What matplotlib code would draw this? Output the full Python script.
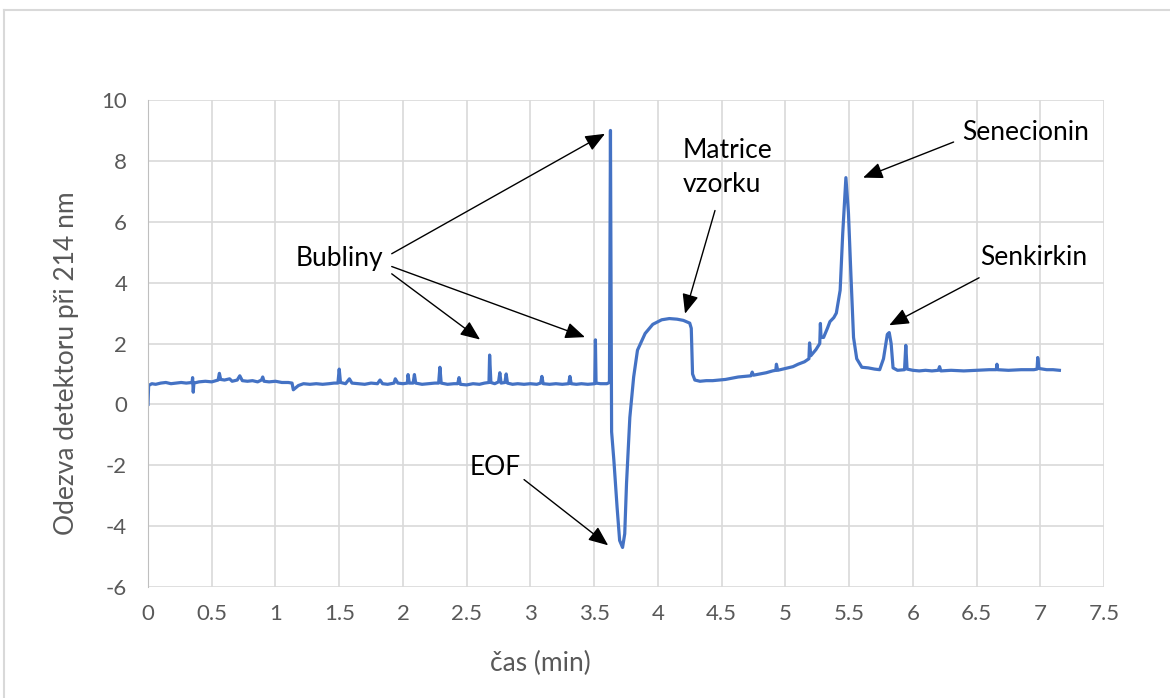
import matplotlib.pyplot as plt
from matplotlib.lines import Line2D

# elektroferogram
cas = [0.000, 0.005, 0.03, 0.06, 0.10, 0.14, 0.18, 0.22, 0.26, 0.30,
       0.345, 0.35, 0.355, 0.36, 0.40, 0.45, 0.50, 0.55, 0.56, 0.57,
       0.60, 0.64, 0.66, 0.70, 0.72, 0.74, 0.78, 0.82, 0.86, 0.89,
       0.90, 0.91, 0.95, 1.00, 1.05, 1.10, 1.13, 1.14, 1.16, 1.18,
       1.22, 1.27, 1.32, 1.37, 1.42, 1.46, 1.49, 1.50, 1.51, 1.55,
       1.58, 1.60, 1.65, 1.70, 1.75, 1.80, 1.82, 1.84, 1.88, 1.93,
       1.94, 1.96, 2.00, 2.035, 2.04, 2.05, 2.08, 2.09, 2.10, 2.15,
       2.20, 2.25, 2.28, 2.29, 2.30, 2.35, 2.40, 2.43, 2.44, 2.45,
       2.50, 2.55, 2.60, 2.64, 2.675, 2.68, 2.69, 2.72, 2.75, 2.76,
       2.77, 2.80, 2.81, 2.82, 2.86, 2.90, 2.95, 3.00, 3.05, 3.08,
       3.09, 3.10, 3.15, 3.20, 3.25, 3.30, 3.31, 3.32, 3.36, 3.40,
       3.45, 3.505, 3.51, 3.515, 3.55, 3.60, 3.62, 3.628, 3.637, 3.655,
       3.68, 3.70, 3.723, 3.74, 3.754, 3.78, 3.81, 3.84, 3.90, 3.96,
       4.03, 4.09, 4.15, 4.20, 4.25, 4.262, 4.272, 4.29, 4.33, 4.38,
       4.43, 4.48, 4.53, 4.58, 4.63, 4.68, 4.73, 4.74, 4.75, 4.80,
       4.85, 4.90, 4.925, 4.93, 4.94, 4.98, 5.02, 5.06, 5.10, 5.15,
       5.185, 5.19, 5.20, 5.24, 5.27, 5.275, 5.28, 5.30, 5.33, 5.35,
       5.38, 5.40, 5.43, 5.45, 5.475, 5.495, 5.515, 5.535, 5.56, 5.60,
       5.65, 5.70, 5.74, 5.77, 5.80, 5.815, 5.83, 5.845, 5.88, 5.935,
       5.945, 5.955, 6.00, 6.05, 6.10, 6.15, 6.20, 6.21, 6.22, 6.30,
       6.40, 6.50, 6.60, 6.655, 6.66, 6.665, 6.75, 6.85, 6.95, 6.975,
       6.98, 6.99, 7.05, 7.10, 7.15]
odezva = [0.00, 0.62, 0.68, 0.66, 0.70, 0.72, 0.68, 0.70, 0.72, 0.70,
          0.72, 0.88, 0.40, 0.70, 0.74, 0.76, 0.74, 0.80, 1.02, 0.82,
          0.80, 0.84, 0.76, 0.80, 0.94, 0.78, 0.76, 0.78, 0.74, 0.80,
          0.90, 0.76, 0.74, 0.76, 0.72, 0.72, 0.70, 0.48, 0.55, 0.62,
          0.68, 0.66, 0.68, 0.66, 0.68, 0.70, 0.70, 1.16, 0.72, 0.68,
          0.84, 0.70, 0.68, 0.66, 0.70, 0.68, 0.80, 0.68, 0.66, 0.70,
          0.84, 0.70, 0.68, 0.70, 0.98, 0.70, 0.70, 0.98, 0.70, 0.66,
          0.68, 0.70, 0.70, 1.22, 0.70, 0.66, 0.68, 0.68, 0.88, 0.66,
          0.64, 0.68, 0.66, 0.70, 0.72, 1.62, 0.72, 0.68, 0.74, 1.04,
          0.70, 0.72, 1.00, 0.70, 0.66, 0.68, 0.66, 0.68, 0.66, 0.70,
          0.92, 0.68, 0.66, 0.68, 0.66, 0.68, 0.92, 0.68, 0.66, 0.68,
          0.66, 0.68, 2.12, 0.70, 0.68, 0.68, 0.72, 9.00, -0.90, -1.85,
          -3.38, -4.47, -4.70, -4.25, -2.60, -0.43, 0.90, 1.78, 2.33, 2.63,
          2.78, 2.82, 2.80, 2.76, 2.67, 2.50, 1.00, 0.80, 0.76, 0.78,
          0.78, 0.80, 0.82, 0.86, 0.90, 0.92, 0.94, 1.06, 0.96, 1.00,
          1.04, 1.10, 1.12, 1.32, 1.12, 1.16, 1.20, 1.24, 1.32, 1.40,
          1.50, 2.02, 1.60, 1.80, 2.00, 2.66, 2.20, 2.20, 2.50, 2.72,
          2.85, 3.00, 3.75, 5.60, 7.45, 6.30, 4.20, 2.20, 1.50, 1.22,
          1.20, 1.16, 1.14, 1.50, 2.30, 2.36, 2.00, 1.20, 1.12, 1.14,
          1.94, 1.16, 1.12, 1.10, 1.12, 1.10, 1.12, 1.24, 1.10, 1.12,
          1.10, 1.12, 1.14, 1.14, 1.32, 1.14, 1.12, 1.14, 1.14, 1.16,
          1.54, 1.18, 1.14, 1.14, 1.12]

x_ticks = [0, 0.5, 1, 1.5, 2, 2.5, 3, 3.5, 4, 4.5, 5, 5.5, 6, 6.5, 7, 7.5]
y_ticks = [-6, -4, -2, 0, 2, 4, 6, 8, 10]

plt.rcParams['font.family'] = ['Lato', 'DejaVu Sans']
plt.rcParams['axes.unicode_minus'] = False

fig = plt.figure(figsize=(11.7, 6.98), dpi=100)
ax = fig.add_axes([0.1265, 0.159, 0.8171, 0.6977])

ax.plot(cas, odezva, color='#4472C4', lw=2.3, solid_joinstyle='round')

ax.set_xlim(0, 7.5)
ax.set_ylim(-6, 10)
ax.set_xticks(x_ticks)
ax.set_xticklabels([f'{t:g}' for t in x_ticks])
ax.set_yticks(y_ticks)
ax.grid(True, color='#d9d9d9', lw=1.2)
ax.set_axisbelow(True)
for s in ['top', 'right', 'bottom']:
    ax.spines[s].set_visible(False)
ax.spines['left'].set_color('#bfbfbf')
ax.tick_params(length=0, labelsize=16, labelcolor='#595959')
ax.tick_params(axis='y', pad=15)
ax.tick_params(axis='x', pad=12)

ax.set_xlabel('čas (min)', fontsize=19, color='#595959', va='center')
ax.xaxis.set_label_coords(0.41, -0.156)
ax.set_ylabel('Odezva detektoru při 214 nm', fontsize=19, color='#595959', va='center')
ax.yaxis.set_label_coords(-0.085, 0.46)

# popisky se sipkami
arrow = dict(arrowstyle='-|>,head_length=0.6,head_width=0.25', color='black',
             lw=1.0, shrinkA=0, shrinkB=0, mutation_scale=20)
ax.text(1.50, 4.80, 'Bubliny', fontsize=19, ha='center', va='center')
ax.annotate('', xy=(3.585, 8.89), xytext=(1.912, 4.95), arrowprops=arrow)
ax.annotate('', xy=(3.428, 2.21), xytext=(1.912, 4.53), arrowprops=arrow)
ax.annotate('', xy=(2.605, 2.13), xytext=(1.912, 4.29), arrowprops=arrow)

ax.text(2.722, -2.06, 'EOF', fontsize=19, ha='center', va='center')
ax.annotate('', xy=(3.61, -4.63), xytext=(2.95, -2.47), arrowprops=arrow)

ax.text(4.197, 7.79, 'Matrice\nvzorku', fontsize=19, ha='left', va='center',
        linespacing=1.45)
ax.annotate('', xy=(4.213, 2.98), xytext=(4.448, 6.37), arrowprops=arrow)

ax.text(6.39, 8.93, 'Senecionin', fontsize=19, ha='left', va='center')
ax.annotate('', xy=(5.61, 7.45), xytext=(6.32, 8.62), arrowprops=arrow)

ax.text(6.53, 4.84, 'Senkirkin', fontsize=19, ha='left', va='center')
ax.annotate('', xy=(5.815, 2.6), xytext=(6.52, 4.16), arrowprops=arrow)

# okraj grafu
fig.add_artist(Line2D([4 / 1170, 4 / 1170], [0, 1 - 10 / 698], color='#d9d9d9', lw=1.5))
fig.add_artist(Line2D([4 / 1170, 1], [1 - 10 / 698, 1 - 10 / 698], color='#d9d9d9', lw=1.5))

fig.savefig('out.png', dpi=100)
